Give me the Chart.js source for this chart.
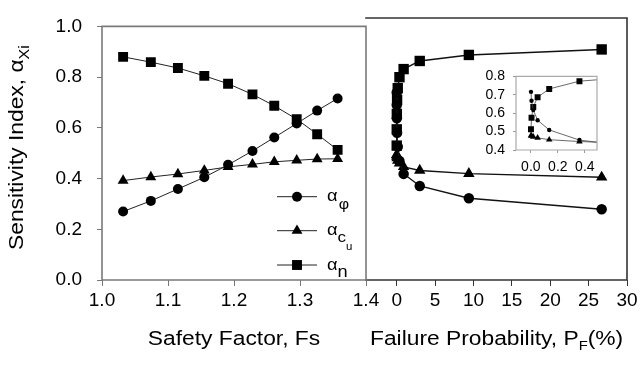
<!DOCTYPE html>
<html>
<head>
<meta charset="utf-8">
<script src="https://cdn.jsdelivr.net/npm/chart.js@4.4.1/dist/chart.umd.min.js"></script>
<style>
  html, body { margin: 0; padding: 0; background: #fff; }
  #wrap { position: relative; width: 641px; height: 365px; overflow: hidden; background: #fff; }
  canvas { position: absolute; }
</style>
</head>
<body>
<div id="wrap">
  <canvas id="rightChart" width="341" height="365" style="left:300px;top:0"></canvas>
  <canvas id="leftChart" width="400" height="365" style="left:0;top:0"></canvas>
  <canvas id="insetChart" width="150" height="125" style="left:456px;top:60px"></canvas>
</div>
<script>
// values, one entry per analysed case
var safetyFactor = [1.032, 1.074, 1.115, 1.155, 1.191, 1.228, 1.261, 1.295, 1.326, 1.357];
var failureProb = [26.7, 9.4, 3.0, 0.9, 0.36, 0.136, 0.05, 0.018, 0.005, 0.001]; // %
var alphaPhi = [0.270, 0.312, 0.359, 0.405, 0.454, 0.509, 0.562, 0.617, 0.668, 0.716];
var alphaCu = [0.392, 0.406, 0.418, 0.432, 0.446, 0.456, 0.466, 0.472, 0.477, 0.478];
var alphaN = [0.880, 0.859, 0.836, 0.805, 0.774, 0.732, 0.687, 0.634, 0.575, 0.513];

var fsTicks = [1.0, 1.1, 1.2, 1.3, 1.4];
var pfTicks = [0, 5, 10, 15, 20, 25, 30];
var alphaTicks = [0.0, 0.2, 0.4, 0.6, 0.8, 1.0];
var insetXTicks = [0.0, 0.2, 0.4];
var insetYTicks = [0.4, 0.5, 0.6, 0.7, 0.8];

var FONT = '"Liberation Sans", Arial, sans-serif';
var STRETCH = 1.14;

function pairs(xs, ys) {
    return xs.map(function (x, i) { return { x: x, y: ys[i] }; });
}

// draws a run of text pieces (main text, subscripts) one after another
function drawRich(ctx, parts, x, y, angle) {
    ctx.save();
    ctx.translate(x, y);
    if (angle) ctx.rotate(angle);
    ctx.scale(STRETCH, 1);
    ctx.fillStyle = '#000';
    ctx.textBaseline = 'alphabetic';
    ctx.textAlign = 'left';
    var cx = 0;
    parts.forEach(function (p) {
        ctx.font = p.size + 'px ' + FONT;
        ctx.fillText(p.text, cx + (p.dx || 0), p.dy || 0);
        cx += ctx.measureText(p.text).width + (p.dx || 0);
    });
    ctx.restore();
}

function richWidth(ctx, parts) {
    var w = 0;
    parts.forEach(function (p) {
        ctx.font = p.size + 'px ' + FONT;
        w += ctx.measureText(p.text).width + (p.dx || 0);
    });
    return w * STRETCH;
}

// box round the plot area, sides picked per chart
var framePlugin = {
    id: 'frame',
    afterDatasetsDraw: function (chart, args, opts) {
        var a = chart.chartArea, ctx = chart.ctx;
        var sides = opts.sides || 'tlrb';
        ctx.save();
        ctx.strokeStyle = opts.color;
        ctx.lineWidth = opts.width;
        ctx.lineCap = 'square';
        ctx.beginPath();
        if (sides.indexOf('t') >= 0) { ctx.moveTo(a.left, a.top); ctx.lineTo(a.right, a.top); }
        if (sides.indexOf('r') >= 0) { ctx.moveTo(a.right, a.top); ctx.lineTo(a.right, a.bottom); }
        if (sides.indexOf('b') >= 0) { ctx.moveTo(a.left, a.bottom); ctx.lineTo(a.right, a.bottom); }
        if (sides.indexOf('l') >= 0) { ctx.moveTo(a.left, a.top); ctx.lineTo(a.left, a.bottom); }
        ctx.stroke();
        ctx.restore();
    }
};

function fixedTicks(list) {
    return function (scale) {
        scale.ticks = list.map(function (v) { return { value: v }; });
    };
}

function axisOpts(min, max, list, digits, size, color, tickLen, pad, fit) {
    return {
        type: 'linear',
        min: min,
        max: max,
        afterBuildTicks: fixedTicks(list),
        afterFit: fit,
        border: { display: false },
        grid: { drawOnChartArea: false, drawTicks: true, tickLength: tickLen, color: color, lineWidth: 1 },
        ticks: {
            color: '#000',
            padding: pad,
            maxRotation: 0,
            autoSkip: false,
            font: { family: FONT, size: size },
            callback: function (v) { return digits === null ? String(v) : Number(v).toFixed(digits); }
        }
    };
}

var seriesStyle = [
    { label: 'alpha_phi', data: alphaPhi, pointStyle: 'circle', r: 5 },
    { label: 'alpha_cu', data: alphaCu, pointStyle: 'triangle', r: 6.3 },
    { label: 'alpha_n', data: alphaN, pointStyle: 'rect', r: 7 }
];

function makeDatasets(xs, scaleR, lineW, color) {
    return seriesStyle.map(function (s) {
        return {
            label: s.label,
            data: pairs(xs, s.data),
            showLine: true,
            borderColor: color,
            borderWidth: lineW,
            backgroundColor: '#000',
            pointBackgroundColor: '#000',
            pointBorderColor: '#000',
            pointBorderWidth: 0,
            pointStyle: s.pointStyle,
            pointRadius: s.r * scaleR,
            pointHoverRadius: s.r * scaleR
        };
    });
}

var baseOptions = {
    responsive: false,
    animation: false,
    events: []
};

// left panel titles and legend
var leftText = {
    id: 'leftText',
    afterDraw: function (chart) {
        var ctx = chart.ctx;
        var xt = [{ text: 'Safety Factor, Fs', size: 20 }];
        drawRich(ctx, xt, 234 - richWidth(ctx, xt) / 2, 345);
        drawRich(ctx, [
            { text: 'Sensitivity Index, ', size: 20 },
            { text: '\u03b1', size: 20 },
            { text: 'Xi', size: 14, dy: 6 }
        ], 23, 250, -Math.PI / 2);

        // legend
        var rows = [
            { y: 196.7, style: 'circle', r: 5, parts: [{ text: '\u03b1', size: 16 }, { text: '\u03c6', size: 14, dy: 8, dx: 1 }] },
            { y: 230.7, style: 'triangle', r: 6.3, parts: [{ text: '\u03b1', size: 16 }, { text: 'c', size: 15, dy: 7 }, { text: 'u', size: 10, dy: 15 }] },
            { y: 265, style: 'rect', r: 7, parts: [{ text: '\u03b1', size: 16 }, { text: 'n', size: 16, dy: 7 }] }
        ];
        rows.forEach(function (row) {
            ctx.save();
            ctx.strokeStyle = '#222';
            ctx.lineWidth = 1;
            ctx.beginPath();
            ctx.moveTo(277, row.y);
            ctx.lineTo(317, row.y);
            ctx.stroke();
            ctx.fillStyle = '#000';
            ctx.strokeStyle = '#000';
            Chart.helpers.drawPoint(ctx, { pointStyle: row.style, radius: row.r, rotation: 0, borderWidth: 0 }, 297, row.y);
            ctx.restore();
            drawRich(ctx, row.parts, 327, row.y + 4.5);
        });
    }
};

var rightText = {
    id: 'rightText',
    afterDraw: function (chart) {
        drawRich(chart.ctx, [
            { text: 'Failure Probability, P', size: 20 },
            { text: 'F', size: 13, dy: 5 },
            { text: '(%)', size: 20 }
        ], 70, 345);
    }
};

new Chart(document.getElementById('rightChart'), {
    type: 'scatter',
    data: { datasets: makeDatasets(failureProb, 1.05, 1.4, '#111') },
    options: Object.assign({}, baseOptions, {
        layout: { padding: { left: 66, top: 18, right: 14, bottom: 0 } },
        scales: {
            x: axisOpts(-4, 30, pfTicks, null, 19, '#333', 6, 3, function (s) { s.height = 85; }),
            y: { type: 'linear', min: 0, max: 1, display: false }
        },
        plugins: { legend: { display: false }, tooltip: { enabled: false }, frame: { color: '#333', width: 1.6, sides: 'trb' } }
    }),
    plugins: [framePlugin, rightText]
});

new Chart(document.getElementById('leftChart'), {
    type: 'scatter',
    data: { datasets: makeDatasets(safetyFactor, 1, 1, '#222') },
    options: Object.assign({}, baseOptions, {
        layout: { padding: { left: 0, top: 18, right: 34, bottom: 0 } },
        scales: {
            x: axisOpts(1.0, 1.4, fsTicks, 1, 19, '#777', 6, 3, function (s) { s.height = 85; }),
            y: axisOpts(0, 1, alphaTicks, 1, 19, '#777', 5, 15, function (s) { s.width = 102; })
        },
        plugins: { legend: { display: false }, tooltip: { enabled: false }, frame: { color: '#7a7a7a', width: 1.6 } }
    }),
    plugins: [framePlugin, leftText]
});

var insetSets = makeDatasets(failureProb, 0.6, 0.8, '#444');
insetSets[0].pointRadius = 2.2;

new Chart(document.getElementById('insetChart'), {
    type: 'scatter',
    data: { datasets: insetSets },
    options: Object.assign({}, baseOptions, {
        layout: { padding: { left: 0, top: 11, right: 9, bottom: 0 } },
        scales: {
            x: axisOpts(-0.11, 0.49, insetXTicks, 1, 14, '#999', 3, 6, function (s) { s.height = 35; }),
            y: axisOpts(0.4, 0.8, insetYTicks, 1, 14, '#999', 3, 8, function (s) { s.width = 60; })
        },
        plugins: { legend: { display: false }, tooltip: { enabled: false }, frame: { color: '#aaa', width: 1.2 } }
    }),
    plugins: [framePlugin]
});
</script>
</body>
</html>
